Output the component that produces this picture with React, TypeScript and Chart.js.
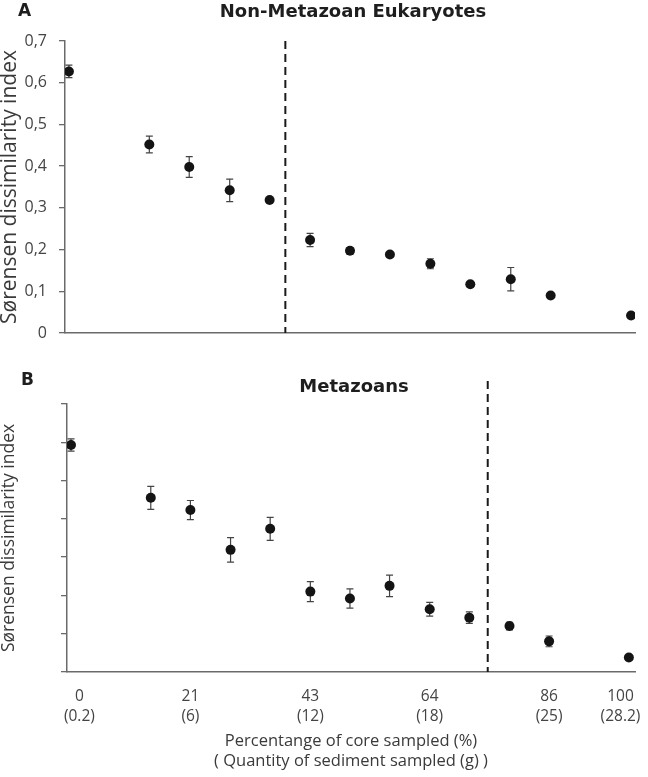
import React, { useEffect, useRef } from 'react';
import { Chart, registerables } from 'chart.js';

Chart.register(...registerables);

// ---- data ----
const xPercent = [0, 14.3, 21.4, 28.6, 35.7, 42.9, 50, 57.1, 64.3, 71.4, 78.6, 85.7, 100];
const nonMetazoanMean = [0.627, 0.452, 0.398, 0.342, 0.319, 0.223, 0.197, 0.188, 0.166, 0.117, 0.129, 0.09, 0.042];
const nonMetazoanErr = [0.015, 0.02, 0.025, 0.027, 0.004, 0.016, 0.008, 0.005, 0.012, 0.005, 0.028, 0.004, 0.003];
const metazoanMean = [0.593, 0.455, 0.423, 0.319, 0.374, 0.21, 0.192, 0.225, 0.164, 0.142, 0.12, 0.08, 0.038];
const metazoanErr = [0.016, 0.03, 0.025, 0.032, 0.03, 0.026, 0.025, 0.028, 0.018, 0.015, 0.01, 0.014, 0];
const xTickValues = [1.5, 21.4, 42.9, 64.3, 85.7, 98.5];
const xTickPercent = ['0', '21', '43', '64', '86', '100'];
const xTickGrams = ['(0.2)', '(6)', '(12)', '(18)', '(25)', '(28.2)'];
const thresholdA = 38.5;
const thresholdB = 74.7;
const yTitle = 'Sørensen dissimilarity index';
const xTitle = ['Percentange of core sampled (%)', '( Quantity of sediment sampled (g) )'];

const TEXT = '#3a3a3a';
const TICK = '#444444';
const AXIS = '#6a6a6a';

const decorPlugin = {
  id: 'decor',
  beforeDatasetsDraw(chart: any, _args: any, opts: any) {
    const { ctx } = chart;
    const xs = chart.scales.x;
    const ys = chart.scales.y;
    ctx.save();
    ctx.strokeStyle = '#444';
    ctx.lineWidth = 1.2;
    opts.mean.forEach((m: number, i: number) => {
      const e = opts.err[i];
      if (!e) return;
      const x = xs.getPixelForValue(xPercent[i]);
      const y1 = ys.getPixelForValue(m + e);
      const y2 = ys.getPixelForValue(m - e);
      ctx.beginPath();
      ctx.moveTo(x, y1);
      ctx.lineTo(x, y2);
      ctx.moveTo(x - 3.5, y1);
      ctx.lineTo(x + 3.5, y1);
      ctx.moveTo(x - 3.5, y2);
      ctx.lineTo(x + 3.5, y2);
      ctx.stroke();
    });
    // dashed threshold line
    const dx = xs.getPixelForValue(opts.dashX);
    ctx.strokeStyle = '#1a1a1a';
    ctx.lineWidth = 2;
    ctx.setLineDash([8, 5]);
    ctx.beginPath();
    ctx.moveTo(dx, ys.getPixelForValue(opts.dashTop));
    ctx.lineTo(dx, ys.getPixelForValue(0));
    ctx.stroke();
    ctx.restore();
  },
  afterDraw(chart: any, _args: any, opts: any) {
    const { ctx, chartArea } = chart;
    ctx.save();
    ctx.fillStyle = '#1e1e1e';
    ctx.font = 'bold 17px "DejaVu Sans"';
    ctx.textAlign = 'left';
    ctx.textBaseline = 'alphabetic';
    ctx.fillText(opts.letter, opts.letterX, opts.letterBaseline);
    ctx.font = 'bold 18px "DejaVu Sans"';
    ctx.textAlign = 'center';
    ctx.fillText(opts.title, (chartArea.left + chartArea.right) / 2 + 3, opts.titleBaseline);
    ctx.restore();
  },
};

function makeConfig(panel: 'A' | 'B'): any {
  const isA = panel === 'A';
  const mean = isA ? nonMetazoanMean : metazoanMean;
  const err = isA ? nonMetazoanErr : metazoanErr;
  const axisW = isA ? 65 : 67;
  return {
    type: 'scatter',
    data: {
      datasets: [
        {
          data: xPercent.map((x, i) => ({ x, y: mean[i] })),
          pointRadius: 5,
          pointHoverRadius: 5,
          backgroundColor: '#141414',
          borderWidth: 0,
          showLine: false,
        },
      ],
    },
    options: {
      responsive: false,
      maintainAspectRatio: false,
      animation: false,
      events: [],
      layout: { padding: { top: isA ? 41 : 49, right: 13, bottom: 0, left: 0 } },
      plugins: {
        legend: { display: false },
        tooltip: { enabled: false },
        decor: {
          mean,
          err,
          dashX: isA ? thresholdA : thresholdB,
          dashTop: isA ? 0.7 : 0.76,
          letter: panel,
          letterX: isA ? 18 : 21,
          letterBaseline: isA ? 16 : 30,
          title: isA ? 'Non-Metazoan Eukaryotes' : 'Metazoans',
          titleBaseline: isA ? 17 : 37,
        },
      },
      scales: {
        x: {
          type: 'linear',
          min: isA ? -0.7 : -0.72,
          max: isA ? 100.7 : 101.1,
          afterBuildTicks: (scale: any) => {
            scale.ticks = xTickValues.map((v) => ({ value: v }));
          },
          afterFit: (scale: any) => {
            scale.height = isA ? 22 : 105;
            scale.paddingLeft = 0;
            scale.paddingRight = 0;
          },
          grid: { display: false, drawTicks: false },
          border: { display: true, color: AXIS, width: 1.5 },
          ticks: {
            display: !isA,
            autoSkip: false,
            maxRotation: 0,
            padding: 15,
            color: TICK,
            font: { family: 'Open Sans', size: 15.5, lineHeight: 1.28 },
            callback: (_v: any, i: number) => [xTickPercent[i], xTickGrams[i]],
          },
          title: {
            display: !isA,
            text: xTitle,
            color: TEXT,
            font: { family: 'Open Sans', size: 16.5, lineHeight: 1.2 },
            padding: { top: 0, bottom: 6 },
          },
        },
        y: {
          type: 'linear',
          min: 0,
          max: 0.7,
          afterFit: (scale: any) => {
            scale.width = axisW;
          },
          ticks: {
            display: isA,
            stepSize: 0.1,
            padding: 12,
            color: TICK,
            font: { family: 'Open Sans', size: 16 },
            callback: (v: number) => (v === 0 ? '0' : v.toFixed(1).replace('.', ',')),
          },
          grid: {
            display: true,
            drawOnChartArea: false,
            drawTicks: true,
            tickLength: 6,
            color: AXIS,
            lineWidth: 1.3,
          },
          border: { display: true, color: AXIS, width: 1.5 },
          title: {
            display: true,
            text: yTitle,
            color: TEXT,
            font: { family: 'Open Sans', size: isA ? 21 : 17.5, lineHeight: 1 },
            padding: { top: 0, bottom: 0 },
          },
        },
      },
    },
    plugins: [decorPlugin],
  };
}

function Panel({ panel, height }: { panel: 'A' | 'B'; height: number }) {
  const ref = useRef<HTMLCanvasElement>(null);
  useEffect(() => {
    if (!ref.current) return;
    const chart = new Chart(ref.current, makeConfig(panel));
    return () => chart.destroy();
  }, [panel]);
  return <canvas ref={ref} width={648} height={height} style={{ display: 'block', width: 648, height }} />;
}

export default function App() {
  return (
    <div style={{ position: 'absolute', left: 0, top: 0, width: 648, height: 777, background: '#fff' }}>
      <Panel panel="A" height={355} />
      <Panel panel="B" height={422} />
    </div>
  );
}
